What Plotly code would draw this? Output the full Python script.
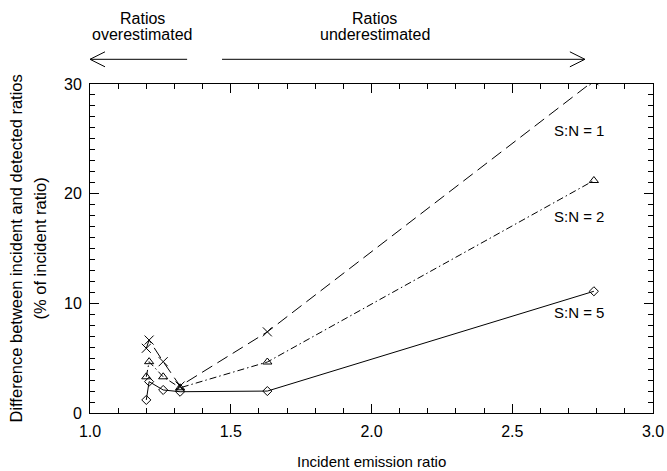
import plotly.graph_objects as go

# Data
x_vals = [1.20, 1.21, 1.26, 1.32, 1.63, 2.79]
sn1 = [5.9, 6.65, 4.68, 2.46, 7.4, 30.3]
sn2 = [3.3, 4.68, 3.3, 2.3, 4.65, 21.2]
sn5 = [1.19, 2.86, 2.1, 1.94, 2.0, 11.1]
series_labels = ["S:N = 1", "S:N = 2", "S:N = 5"]
label_x = 2.64
label_y = [25.8, 17.9, 9.2]

FONT = "Liberation Sans, Arial, Helvetica, sans-serif"

fig = go.Figure()
styles = [
    (sn1, "12px,6px", "x-thin-open", 9),
    (sn2, "7px,3px,1.5px,3px", "triangle-up-open", 8),
    (sn5, "solid", "diamond-open", 7),
]
for ys, dash, sym, size in styles:
    fig.add_trace(go.Scatter(
        x=x_vals, y=ys, mode="lines+markers",
        line=dict(color="black", width=1, dash=dash),
        marker=dict(symbol=sym, size=size, color="black",
                    line=dict(color="black", width=1)),
        showlegend=False,
    ))

for lab, ly in zip(series_labels, label_y):
    fig.add_annotation(x=label_x, y=ly, text=lab, showarrow=False,
                       xanchor="left", yanchor="middle",
                       font=dict(size=15, color="black", family=FONT))

# top labels and arrows (plot top at 84 px, height 329 px)
def py(pix):
    return (413 - pix) / 329

for cx, l1, l2 in [(1.188, "Ratios", "overestimated"), (2.012, "Ratios", "underestimated")]:
    fig.add_annotation(x=cx, y=py(18), yref="paper", text=l1, showarrow=False,
                       xanchor="center", yanchor="middle",
                       font=dict(size=16, color="black", family=FONT))
    fig.add_annotation(x=cx, y=py(35), yref="paper", text=l2, showarrow=False,
                       xanchor="center", yanchor="middle",
                       font=dict(size=16, color="black", family=FONT))

ya = py(59.3)
hx = 15 / 281.5
hy = 7.5 / 329
arrows = [(1.0, 1.345, -1), (1.469, 2.758, 1)]
for x0, x1, d in arrows:
    fig.add_shape(type="line", xref="x", yref="paper", x0=x0, x1=x1, y0=ya, y1=ya,
                  line=dict(color="black", width=1))
    tip = x0 if d < 0 else x1
    back = tip + hx if d < 0 else tip - hx
    fig.add_shape(type="path", xref="x", yref="paper",
                  path=f"M {back},{ya + hy} L {tip},{ya} L {back},{ya - hy}",
                  line=dict(color="black", width=1))

# axis titles as annotations
fig.add_annotation(xref="paper", yref="paper", x=0, y=0.5, xshift=-75,
                   xanchor="center", yanchor="middle",
                   text="Difference between incident and detected ratios",
                   textangle=-90, showarrow=False,
                   font=dict(size=16.5, color="black", family=FONT))
fig.add_annotation(xref="paper", yref="paper", x=0, y=0.5, xshift=-51,
                   xanchor="center", yanchor="middle",
                   text="(% of incident ratio)",
                   textangle=-90, showarrow=False,
                   font=dict(size=16.5, color="black", family=FONT))
fig.add_annotation(xref="paper", yref="paper", x=0.5, y=0, yshift=-48,
                   xanchor="center", yanchor="middle",
                   text="Incident emission ratio", showarrow=False,
                   font=dict(size=15, color="black", family=FONT))

axis_common = dict(showline=True, linecolor="black", linewidth=1, mirror="ticks",
                   ticks="inside", tickcolor="black", tickwidth=1, ticklen=9,
                   showgrid=False, zeroline=False, automargin=False,
                   tickfont=dict(size=16, color="black", family=FONT))

fig.update_xaxes(range=[1.0, 3.0], dtick=0.5, tick0=1.0, tickformat=".1f",
                 minor=dict(dtick=0.1, ticks="inside", ticklen=5, tickcolor="black"),
                 ticklabelstandoff=4,
                 **axis_common)
fig.update_yaxes(range=[0, 30], dtick=10, tick0=0,
                 minor=dict(dtick=1, ticks="inside", ticklen=5, tickcolor="black"),
                 ticklabelstandoff=4,
                 **axis_common)

fig.update_layout(width=667, height=471, margin=dict(l=90, r=14, t=84, b=58),
                  plot_bgcolor="white", paper_bgcolor="white",
                  font=dict(family=FONT, color="black"))

fig.write_html("out.html", config={"displayModeBar": False},
               post_script="document.body.style.margin='0px';document.body.style.overflow='hidden';")
